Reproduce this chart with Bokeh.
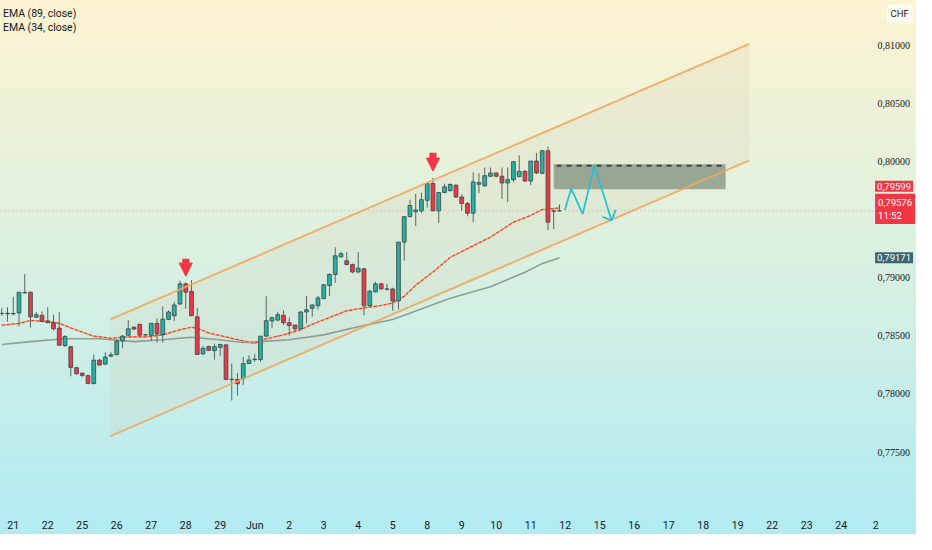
from bokeh.plotting import figure
from bokeh.models import Label, FixedTicker, Arrow, NormalHead, ColumnDataSource
from bokeh.embed import file_html
from bokeh.resources import INLINE

# ---------------- data ----------------
day_labels = ["21", "22", "25", "26", "27", "28", "29", "Jun", "2", "3", "4", "5",
              "8", "9", "10", "11", "12", "15", "16", "17", "18", "19", "22", "23", "24", "2"]
candles_per_day = 6
first_candle = -2

opens = [0.78691, 0.78694, 0.78689, 0.78696, 0.78872, 0.78875, 0.78660, 0.78676, 0.78627, 0.78613,
         0.78566, 0.78414, 0.78406, 0.78226, 0.78178, 0.78157, 0.78090, 0.78290, 0.78256, 0.78325,
         0.78339, 0.78456, 0.78505, 0.78574, 0.78599, 0.78510, 0.78505, 0.78607, 0.78510, 0.78641,
         0.78672, 0.78774, 0.78947, 0.78883, 0.78663, 0.78344, 0.78408, 0.78372, 0.78400, 0.78422,
         0.78124, 0.78124, 0.78129, 0.78261, 0.78295, 0.78295, 0.78497, 0.78627, 0.78635, 0.78676,
         0.78613, 0.78593, 0.78560, 0.78705, 0.78737, 0.78759, 0.78820, 0.78933, 0.79027, 0.79179,
         0.79146, 0.79113, 0.79049, 0.79077, 0.78759, 0.78878, 0.78947, 0.78903, 0.78903, 0.78800,
         0.79306, 0.79525, 0.79567, 0.79575, 0.79666, 0.79810, 0.79575, 0.79733, 0.79749, 0.79796,
         0.79694, 0.79638, 0.79555, 0.79804, 0.79790, 0.79873, 0.79901, 0.79873, 0.79815, 0.79843,
         0.79870, 0.79915, 0.79832, 0.80003, 0.79898, 0.80092, 0.79570, 0.79575]
highs = [0.78738, 0.78746, 0.78837, 0.78876, 0.79030, 0.78880, 0.78705, 0.78710, 0.78746, 0.78682,
         0.78705, 0.78505, 0.78414, 0.78230, 0.78184, 0.78165, 0.78339, 0.78303, 0.78358, 0.78358,
         0.78469, 0.78505, 0.78635, 0.78580, 0.78600, 0.78516, 0.78608, 0.78649, 0.78754, 0.78718,
         0.78793, 0.78974, 0.78958, 0.78980, 0.78740, 0.78414, 0.78414, 0.78433, 0.78433, 0.78425,
         0.78261, 0.78179, 0.78317, 0.78334, 0.78342, 0.78499, 0.78840, 0.78666, 0.78707, 0.78718,
         0.78657, 0.78593, 0.78710, 0.78842, 0.78773, 0.78842, 0.78947, 0.79038, 0.79262, 0.79223,
         0.79223, 0.79121, 0.79221, 0.79082, 0.78897, 0.78966, 0.78955, 0.78947, 0.78914, 0.79306,
         0.79525, 0.79671, 0.79721, 0.79733, 0.79810, 0.79859, 0.79735, 0.79810, 0.79810, 0.79804,
         0.79718, 0.79652, 0.79907, 0.79899, 0.79948, 0.79948, 0.79907, 0.79948, 0.79948, 0.80003,
         0.80053, 0.79925, 0.80005, 0.80073, 0.80100, 0.80127, 0.79589, 0.79630]
lows = [0.78672, 0.78621, 0.78676, 0.78580, 0.78864, 0.78572, 0.78655, 0.78620, 0.78608, 0.78544,
        0.78414, 0.78406, 0.78151, 0.78165, 0.78145, 0.78082, 0.78082, 0.78240, 0.78248, 0.78317,
        0.78331, 0.78394, 0.78497, 0.78552, 0.78497, 0.78497, 0.78456, 0.78442, 0.78442, 0.78635,
        0.78627, 0.78765, 0.78732, 0.78670, 0.78337, 0.78339, 0.78369, 0.78295, 0.78325, 0.78120,
        0.77943, 0.77985, 0.78076, 0.78259, 0.78276, 0.78276, 0.78495, 0.78566, 0.78624, 0.78593,
        0.78500, 0.78538, 0.78552, 0.78607, 0.78665, 0.78726, 0.78815, 0.78842, 0.78955, 0.79174,
        0.79105, 0.79038, 0.79038, 0.78676, 0.78748, 0.78872, 0.78897, 0.78889, 0.78715, 0.78726,
        0.79146, 0.79519, 0.79445, 0.79555, 0.79602, 0.79573, 0.79470, 0.79727, 0.79743, 0.79686,
        0.79575, 0.79528, 0.79478, 0.79727, 0.79782, 0.79865, 0.79865, 0.79677, 0.79650, 0.79824,
        0.79865, 0.79824, 0.79796, 0.79892, 0.79892, 0.79409, 0.79418, 0.79569]
closes = [0.78694, 0.78689, 0.78693, 0.78875, 0.78869, 0.78663, 0.78682, 0.78622, 0.78613, 0.78560,
          0.78419, 0.78494, 0.78228, 0.78173, 0.78159, 0.78090, 0.78290, 0.78248, 0.78317, 0.78336,
          0.78456, 0.78497, 0.78560, 0.78558, 0.78505, 0.78508, 0.78607, 0.78516, 0.78643, 0.78705,
          0.78765, 0.78947, 0.78875, 0.78672, 0.78339, 0.78392, 0.78375, 0.78406, 0.78425, 0.78124,
          0.78126, 0.78087, 0.78261, 0.78292, 0.78298, 0.78497, 0.78630, 0.78655, 0.78682, 0.78613,
          0.78588, 0.78560, 0.78705, 0.78724, 0.78765, 0.78825, 0.78939, 0.79027, 0.79188, 0.79207,
          0.79113, 0.79049, 0.79082, 0.78759, 0.78883, 0.78947, 0.78903, 0.78901, 0.78800, 0.79306,
          0.79525, 0.79621, 0.79583, 0.79671, 0.79810, 0.79575, 0.79733, 0.79782, 0.79802, 0.79694,
          0.79638, 0.79555, 0.79824, 0.79818, 0.79878, 0.79901, 0.79873, 0.79815, 0.79843, 0.79998,
          0.79915, 0.79832, 0.80003, 0.79901, 0.80092, 0.79478, 0.79575, 0.79576]

ema34_idx = [-2, 1, 3, 6, 8, 11, 14, 17, 20, 23, 26, 29, 31, 32, 34, 38, 42, 43, 47, 50, 52, 55,
             58, 61, 64, 66, 68, 70, 73, 76, 80, 83, 87, 90, 92, 95]
ema34_val = [0.78591, 0.78607, 0.78632, 0.78624, 0.78607, 0.78549, 0.78497, 0.78479, 0.78491,
             0.78491, 0.78508, 0.78552, 0.78574, 0.78566, 0.78524, 0.78479, 0.78433, 0.78462,
             0.78508, 0.78553, 0.78599, 0.78657, 0.78715, 0.78740, 0.78761, 0.78782, 0.78840,
             0.78935, 0.79049, 0.79175, 0.79275, 0.79349, 0.79478, 0.79536, 0.79586, 0.79599]
ema89_idx = [-2, 3, 9, 15, 21, 26, 31, 35, 40, 43, 48, 54, 60, 66, 72, 76, 83, 89, 92, 95]
ema89_val = [0.78425, 0.78450, 0.78475, 0.78475, 0.78450, 0.78466, 0.78487, 0.78470, 0.78442,
             0.78450, 0.78466, 0.78508, 0.78578, 0.78641, 0.78749, 0.78823, 0.78922, 0.79047,
             0.79121, 0.79171]

channel_x = [16.9, 128.0]
channel_upper = [0.78641, 0.81012]
channel_lower = [0.77637, 0.80009]

zone_left, zone_right = 94.0, 123.9
zone_bottom, zone_top = 0.79762, 0.79975
zone_line = 0.79963

path_x = [95.95, 97.04, 99.03, 101.08, 104.05]
path_y = [0.79583, 0.79768, 0.79547, 0.79970, 0.79492]
head_x = [102.5, 104.79]
head_y = [0.79525, 0.79583]

signal_x = [30.0, 73.0]
signal_top = [0.79163, 0.80075]
signal_tip = [0.79013, 0.79917]

last_price = 0.79576
ema34_last = 0.79599
ema89_last = 0.79171
countdown = "11:52"
currency = "CHF"
price_ticks = [0.775, 0.780, 0.785, 0.790, 0.800, 0.805, 0.810]

# ---------------- layout constants ----------------
X_LEFT, X_RIGHT = -2.22, 157.1     # full canvas width (chart + price scale)
SCALE_X = 150.3                    # x of the price-scale labels
TAG_X = 149.9                      # x of the coloured price tags
FONT = "Roboto"
TXT = "#131722"
UP, DOWN = "#26b0a0", "#f23645"


def fmt(v):
    return f"{v:.5f}".replace(".", ",")


p = figure(width=916, height=534, x_range=(X_LEFT, X_RIGHT), y_range=(0.77057, 0.81385),
           y_axis_location=None, output_backend="svg", toolbar_location=None,
           min_border_left=0, min_border_top=0, min_border_right=0, min_border_bottom=24,
           background_fill_color=None, border_fill_color=None, outline_line_color=None)
p.styles = {"background": "linear-gradient(180deg, #fdf3d1 0%, #d8f0e1 50%, #b1ebf2 100%)"}
p.grid.visible = False

n = len(opens)
idx = list(range(first_candle, first_candle + n))
colors = [UP if c >= o else DOWN for o, c in zip(opens, closes)]
src = ColumnDataSource(dict(x=idx, o=opens, h=highs, l=lows, c=closes,
                            top=[max(o, c) for o, c in zip(opens, closes)],
                            bot=[min(o, c) for o, c in zip(opens, closes)],
                            color=colors))

# channel fill
p.patch([channel_x[0], channel_x[1], channel_x[1], channel_x[0]],
        [channel_upper[0], channel_upper[1], channel_lower[1], channel_lower[0]],
        fill_color="#d6cbb6", fill_alpha=0.2, line_color=None)

# current price dotted line
p.line([X_LEFT, SCALE_X], [last_price, last_price], line_color="#c99a9a",
       line_dash="1 3", line_width=1, line_alpha=0.8)

# EMAs
p.line(ema89_idx, ema89_val, line_color="#8f9d95", line_width=1.6)
p.line(ema34_idx, ema34_val, line_color="#f2a65e", line_width=1.6)
p.line(ema34_idx, ema34_val, line_color="#f23645", line_width=1.1, line_dash="3 2")

# candles
p.segment("x", "h", "x", "l", source=src, line_color="#5b6660", line_width=1)
p.vbar(x="x", width=0.66, top="top", bottom="bot", source=src, fill_color="color",
       line_color="#34474a", line_width=0.8)

# zone
p.quad(left=zone_left, right=zone_right, bottom=zone_bottom, top=zone_top,
       fill_color="#818f7f", fill_alpha=0.75, line_color=None)
p.line([zone_left + 0.5, zone_right - 0.5], [zone_line, zone_line], line_color="#4b4146",
       line_width=2, line_dash="5 5")

# channel lines
p.line(channel_x, channel_upper, line_color="#f2a65a", line_width=2, line_alpha=0.85)
p.line(channel_x, channel_lower, line_color="#f2a65a", line_width=2, line_alpha=0.85)

# projected path
p.line(path_x, path_y, line_color="#22c1d6", line_width=1.7)
p.segment(head_x, head_y, [path_x[-1]] * len(head_x), [path_y[-1]] * len(head_y),
          line_color="#22c1d6", line_width=1.7)

# signal arrows
for sx, st, stip in zip(signal_x, signal_top, signal_tip):
    p.add_layout(Arrow(end=NormalHead(size=13, fill_color=DOWN, line_color=DOWN),
                       x_start=sx, y_start=st, x_end=sx, y_end=stip,
                       line_color=DOWN, line_width=7))

# time axis
p.xaxis.ticker = FixedTicker(ticks=[i * candles_per_day for i in range(len(day_labels))])
p.xaxis.major_label_overrides = {i * candles_per_day: lab for i, lab in enumerate(day_labels)}
p.xaxis.axis_line_color = None
p.xaxis.major_tick_line_color = None
p.xaxis.minor_tick_line_color = None
p.xaxis.major_label_text_font = FONT
p.xaxis.major_label_text_font_size = "10.5px"
p.xaxis.major_label_text_color = TXT
p.xaxis.major_label_standoff = 9

# price scale
p.text(x=[SCALE_X] * len(price_ticks), y=price_ticks, text=[fmt(t) for t in price_ticks],
       text_font="Roboto", text_font_size="10px", text_color=TXT,
       text_baseline="middle", text_align="left")

# legend texts
for yv, txt in [(0.81269, "EMA (89, close)"), (0.81153, "EMA (34, close)")]:
    p.add_layout(Label(x=-1.8, y=yv, text=txt, text_font=FONT, text_font_size="10.5px",
                       text_color=TXT, text_baseline="middle"))

# price-scale tags
p.add_layout(Label(x=SCALE_X + 1.6, y=0.81269, text=currency, text_font=FONT, text_font_size="9.5px",
                   text_color=TXT, text_baseline="middle", background_fill_color="#fffdf2",
                   background_fill_alpha=0.95, padding=4, border_radius=4))
p.add_layout(Label(x=TAG_X, y=0.79787, text=fmt(ema34_last), text_font=FONT,
                   text_font_size="9.5px", text_color="white", text_baseline="middle",
                   background_fill_color=DOWN, padding=2))
p.add_layout(Label(x=TAG_X, y=0.79592, text=fmt(last_price) + "\n" + countdown,
                   text_font=FONT, text_font_size="9.5px", text_color="white",
                   text_baseline="middle", background_fill_color=DOWN, padding=3))
p.add_layout(Label(x=TAG_X, y=ema89_last, text=fmt(ema89_last), text_font=FONT,
                   text_font_size="9.5px", text_color="white", text_baseline="middle",
                   background_fill_color="#3b6672", padding=2))

open("out.html", "w").write(file_html(p, INLINE))
